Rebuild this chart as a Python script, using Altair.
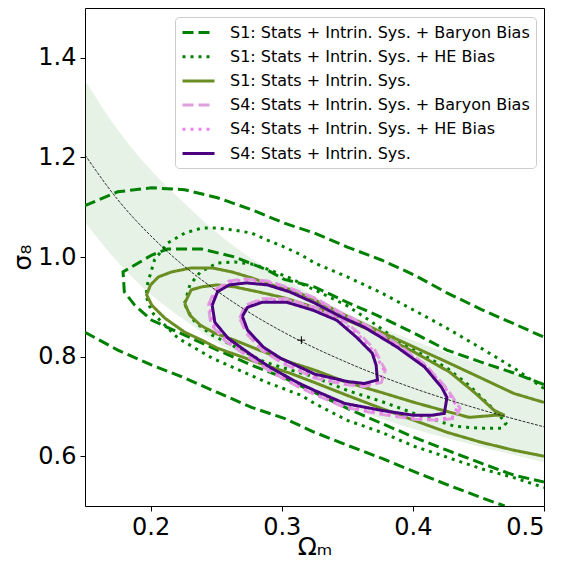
import altair as alt
import pandas as pd

SERIES = [
    "S1: Stats + Intrin. Sys. + Baryon Bias",
    "S1: Stats + Intrin. Sys. + HE Bias",
    "S1: Stats + Intrin. Sys.",
    "S4: Stats + Intrin. Sys. + Baryon Bias",
    "S4: Stats + Intrin. Sys. + HE Bias",
    "S4: Stats + Intrin. Sys.",
]
COLORS = ["#008000", "#008000", "#6b8e23", "#dda0dd", "#ee82ee", "#4b0082"]
DASHES = [[11, 5], [3, 5], [1, 0], [11, 5], [3, 5], [1, 0]]

# shaded degeneracy band and its centre line
BAND_OM = [0.15, 0.175, 0.2, 0.225, 0.25, 0.275, 0.3, 0.35, 0.4, 0.45, 0.5]
BAND_HI = [1.355, 1.255, 1.175, 1.11, 1.05, 1.0, 0.96, 0.887, 0.833, 0.786, 0.75]
BAND_LO = [1.07, 0.99, 0.925, 0.875, 0.83, 0.79, 0.755, 0.70, 0.655, 0.62, 0.588]
CURVE_S8 = [1.205, 1.115, 1.043, 0.983, 0.933, 0.889, 0.851, 0.788, 0.737, 0.695, 0.659]

FID_OM = [0.315]
FID_S8 = [0.833]

# S1 baryon bias (green dashed)
S1B_OUT_TOP_OM = [0.150, 0.175, 0.201, 0.226, 0.251, 0.277, 0.302, 0.325, 0.350, 0.376, 0.401, 0.426, 0.452, 0.477, 0.500]
S1B_OUT_TOP_S8 = [1.103, 1.131, 1.139, 1.135, 1.119, 1.095, 1.068, 1.048, 1.020, 0.994, 0.964, 0.928, 0.895, 0.866, 0.839]
S1B_OUT_BOT_OM = [0.150, 0.175, 0.201, 0.226, 0.251, 0.277, 0.302, 0.325, 0.350, 0.376, 0.401, 0.426, 0.452, 0.470]
S1B_OUT_BOT_S8 = [0.849, 0.813, 0.783, 0.757, 0.728, 0.698, 0.676, 0.648, 0.622, 0.596, 0.569, 0.543, 0.517, 0.500]
S1B_IN_OM = [0.500, 0.477, 0.452, 0.426, 0.401, 0.376, 0.350, 0.325, 0.302, 0.289, 0.264, 0.239, 0.213, 0.201, 0.179,
             0.180, 0.188, 0.201, 0.226, 0.251, 0.277, 0.302, 0.325, 0.350, 0.376, 0.401, 0.426, 0.452, 0.477, 0.500]
S1B_IN_S8 = [0.744, 0.767, 0.789, 0.813, 0.847, 0.879, 0.909, 0.940, 0.955, 0.974, 1.000, 1.016, 1.016, 1.004, 0.970,
             0.930, 0.903, 0.873, 0.843, 0.813, 0.783, 0.757, 0.728, 0.696, 0.666, 0.638, 0.612, 0.586, 0.562, 0.548]

# S1 HE bias (green dotted)
S1H_OUT_OM = [0.500, 0.477, 0.452, 0.426, 0.401, 0.376, 0.350, 0.325, 0.315, 0.302, 0.289, 0.277, 0.264, 0.251, 0.239,
              0.226, 0.213, 0.203, 0.197, 0.197, 0.201, 0.211, 0.221, 0.234, 0.247, 0.264, 0.289, 0.315, 0.325, 0.350,
              0.376, 0.401, 0.426, 0.452, 0.477, 0.500]
S1H_OUT_S8 = [0.736, 0.777, 0.817, 0.857, 0.893, 0.928, 0.960, 0.988, 1.004, 1.020, 1.034, 1.048, 1.054, 1.058, 1.058,
              1.048, 1.028, 0.994, 0.940, 0.918, 0.889, 0.863, 0.837, 0.817, 0.797, 0.777, 0.748, 0.722, 0.706, 0.672,
              0.648, 0.620, 0.598, 0.575, 0.557, 0.537]
S1H_IN_OM = [0.226, 0.230, 0.238, 0.251, 0.264, 0.277, 0.291, 0.306, 0.325, 0.350, 0.369, 0.388, 0.401, 0.426, 0.443,
             0.457, 0.466, 0.471, 0.468, 0.451, 0.432, 0.413, 0.401, 0.376, 0.350, 0.325, 0.302, 0.287, 0.272, 0.259,
             0.247, 0.234, 0.228, 0.226]
S1H_IN_S8 = [0.907, 0.944, 0.970, 0.988, 0.990, 0.986, 0.974, 0.958, 0.934, 0.902, 0.869, 0.833, 0.813, 0.777, 0.742,
             0.706, 0.682, 0.666, 0.656, 0.656, 0.660, 0.676, 0.686, 0.710, 0.732, 0.759, 0.777, 0.789, 0.809, 0.827,
             0.843, 0.869, 0.893, 0.907]

# S1 stats + intrinsic (olive solid)
S1S_OUT_OM = [0.500, 0.477, 0.452, 0.426, 0.401, 0.376, 0.350, 0.325, 0.308, 0.292, 0.277, 0.262, 0.247, 0.231, 0.216,
              0.206, 0.200, 0.197, 0.201, 0.211, 0.226, 0.239, 0.251, 0.268, 0.287, 0.306, 0.325, 0.350, 0.376, 0.401,
              0.426, 0.452, 0.477, 0.500]
S1S_OUT_S8 = [0.708, 0.726, 0.757, 0.789, 0.819, 0.849, 0.881, 0.914, 0.934, 0.944, 0.958, 0.970, 0.978, 0.978, 0.970,
              0.960, 0.944, 0.924, 0.903, 0.877, 0.849, 0.833, 0.817, 0.801, 0.783, 0.767, 0.748, 0.722, 0.696, 0.672,
              0.648, 0.628, 0.612, 0.600]
S1S_IN_OM = [0.226, 0.231, 0.239, 0.251, 0.264, 0.282, 0.302, 0.327, 0.350, 0.376, 0.401, 0.428, 0.447, 0.462, 0.470,
             0.462, 0.443, 0.423, 0.401, 0.376, 0.350, 0.325, 0.306, 0.283, 0.264, 0.249, 0.238, 0.230, 0.226]
S1S_IN_S8 = [0.907, 0.934, 0.940, 0.944, 0.940, 0.930, 0.918, 0.897, 0.873, 0.843, 0.809, 0.769, 0.728, 0.692, 0.682,
             0.682, 0.678, 0.692, 0.708, 0.728, 0.748, 0.773, 0.789, 0.813, 0.833, 0.847, 0.863, 0.883, 0.907]

# S4 baryon bias (plum dashed)
S4B_OUT_OM = [0.244, 0.249, 0.260, 0.273, 0.289, 0.306, 0.325, 0.346, 0.363, 0.388, 0.409, 0.426, 0.436, 0.432, 0.420,
              0.401, 0.376, 0.348, 0.325, 0.312, 0.292, 0.277, 0.257, 0.246, 0.244]
S4B_OUT_S8 = [0.903, 0.934, 0.952, 0.956, 0.952, 0.938, 0.918, 0.887, 0.865, 0.825, 0.785, 0.736, 0.696, 0.676, 0.672,
              0.674, 0.684, 0.698, 0.724, 0.740, 0.769, 0.795, 0.831, 0.865, 0.903]
S4B_IN_OM = [0.268, 0.272, 0.285, 0.304, 0.325, 0.344, 0.359, 0.371, 0.379, 0.376, 0.363, 0.348, 0.325, 0.299, 0.285,
             0.273, 0.268]
S4B_IN_S8 = [0.877, 0.903, 0.916, 0.916, 0.899, 0.879, 0.847, 0.813, 0.773, 0.748, 0.740, 0.744, 0.757, 0.789, 0.813,
             0.847, 0.877]

# S4 HE bias (violet dotted)
S4H_OUT_OM = [0.245, 0.250, 0.260, 0.273, 0.289, 0.306, 0.325, 0.346, 0.363, 0.388, 0.409, 0.425, 0.434, 0.430, 0.418,
              0.401, 0.376, 0.348, 0.325, 0.312, 0.292, 0.277, 0.258, 0.247, 0.245]
S4H_OUT_S8 = [0.903, 0.932, 0.950, 0.954, 0.950, 0.936, 0.916, 0.885, 0.863, 0.823, 0.783, 0.736, 0.698, 0.678, 0.674,
              0.676, 0.686, 0.700, 0.726, 0.742, 0.771, 0.797, 0.833, 0.866, 0.903]
S4H_IN_OM = [0.269, 0.273, 0.285, 0.304, 0.325, 0.343, 0.358, 0.370, 0.378, 0.375, 0.363, 0.348, 0.325, 0.299, 0.285,
             0.274, 0.269]
S4H_IN_S8 = [0.879, 0.901, 0.914, 0.914, 0.897, 0.877, 0.845, 0.811, 0.773, 0.750, 0.742, 0.746, 0.759, 0.791, 0.815,
             0.849, 0.879]

# S4 stats + intrinsic (indigo solid)
S4S_OUT_OM = [0.247, 0.251, 0.260, 0.273, 0.289, 0.306, 0.324, 0.346, 0.363, 0.388, 0.409, 0.422, 0.426, 0.424, 0.414,
              0.401, 0.376, 0.348, 0.325, 0.312, 0.292, 0.277, 0.259, 0.249, 0.247]
S4S_OUT_S8 = [0.903, 0.930, 0.944, 0.948, 0.944, 0.930, 0.909, 0.879, 0.859, 0.819, 0.779, 0.738, 0.718, 0.686, 0.682,
              0.682, 0.692, 0.706, 0.732, 0.748, 0.777, 0.803, 0.837, 0.869, 0.903]
S4S_IN_OM = [0.270, 0.274, 0.285, 0.304, 0.324, 0.342, 0.357, 0.369, 0.372, 0.373, 0.363, 0.350, 0.325, 0.299, 0.286,
             0.274, 0.270]
S4S_IN_S8 = [0.881, 0.899, 0.909, 0.909, 0.893, 0.873, 0.839, 0.807, 0.783, 0.753, 0.746, 0.750, 0.765, 0.797, 0.819,
             0.853, 0.881]

CONTOURS = [
    (0, "s1b_out_top", S1B_OUT_TOP_OM, S1B_OUT_TOP_S8),
    (0, "s1b_out_bot", S1B_OUT_BOT_OM, S1B_OUT_BOT_S8),
    (0, "s1b_in", S1B_IN_OM, S1B_IN_S8),
    (1, "s1h_out", S1H_OUT_OM, S1H_OUT_S8),
    (1, "s1h_in", S1H_IN_OM, S1H_IN_S8),
    (2, "s1s_out", S1S_OUT_OM, S1S_OUT_S8),
    (2, "s1s_in", S1S_IN_OM, S1S_IN_S8),
    (3, "s4b_out", S4B_OUT_OM, S4B_OUT_S8),
    (3, "s4b_in", S4B_IN_OM, S4B_IN_S8),
    (4, "s4h_out", S4H_OUT_OM, S4H_OUT_S8),
    (4, "s4h_in", S4H_IN_OM, S4H_IN_S8),
    (5, "s4s_out", S4S_OUT_OM, S4S_OUT_S8),
    (5, "s4s_in", S4S_IN_OM, S4S_IN_S8),
]

rows = []
for si, cid, oms, s8s in CONTOURS:
    for i, (om, s8) in enumerate(zip(oms, s8s)):
        rows.append({"series": SERIES[si], "cid": cid, "i": i, "om": om, "s8": s8, "grp": "S1" if si < 3 else "S4"})
cdf = pd.DataFrame(rows)
band_df = pd.DataFrame({"om": BAND_OM, "hi": BAND_HI, "lo": BAND_LO, "mid": CURVE_S8})
fid_df = pd.DataFrame({"om": FID_OM, "s8": FID_S8})

FONT = "DejaVu Sans"
xs = alt.Scale(domain=[0.15, 0.5], nice=False, zero=False)
ys = alt.Scale(domain=[0.5, 1.5], nice=False, zero=False)
xaxis = alt.Axis(values=[0.2, 0.3, 0.4, 0.5], format=".1f", title="Ωₘ",
                 titleBaseline="alphabetic", titleY=48)
yaxis = alt.Axis(values=[0.6, 0.8, 1.0, 1.2, 1.4], format=".1f", title="σ₈")

X = alt.X("om:Q", scale=xs, axis=xaxis)

legend = alt.Legend(
    title=None, orient="none", legendX=90, legendY=9,
    fillColor="white", strokeColor="#cccccc", cornerRadius=4, padding=6,
    symbolType="M-2,0L2,0", symbolSize=256, symbolStrokeWidth=3, symbolOffset=8,
    labelFontSize=16, labelFont=FONT, labelColor="black", labelLimit=500,
    rowPadding=6.2, labelOffset=22,
)
color = alt.Color("series:N", scale=alt.Scale(domain=SERIES, range=COLORS), legend=legend, title=None)
dash = alt.StrokeDash("series:N", scale=alt.Scale(domain=SERIES, range=DASHES), legend=legend, title=None)

band = alt.Chart(band_df).mark_area(color="green", opacity=0.1, interpolate="monotone").encode(
    x=X, y=alt.Y("hi:Q", scale=ys, axis=yaxis), y2="lo:Q"
)
curve = alt.Chart(band_df).mark_line(color="black", strokeWidth=0.8, strokeDash=[3, 1.3], interpolate="monotone").encode(
    x=X, y=alt.Y("mid:Q", scale=ys, axis=yaxis)
)

def contour_layer(grp):
    return alt.Chart(cdf[cdf.grp == grp]).mark_line(strokeWidth=3, clip=True, strokeCap="butt").encode(
        x=X, y=alt.Y("s8:Q", scale=ys, axis=yaxis), color=color, strokeDash=dash,
        detail="cid:N", order="i:Q",
    )

fid = alt.Chart(fid_df).mark_point(shape="M-1,0L1,0M0,-1L0,1", size=60, filled=False, color="black",
                                   strokeWidth=1, opacity=1).encode(
    x=X, y=alt.Y("s8:Q", scale=ys, axis=yaxis)
)

chart = alt.layer(band, contour_layer("S1"), contour_layer("S4"), curve, fid).properties(
    width=459, height=498,
    autosize=alt.AutoSizeParams(type="none"),
    padding={"left": 77, "top": 0, "right": 10, "bottom": 54},
).configure(font=FONT).configure_view(
    stroke="black", strokeWidth=1
).configure_axis(
    grid=False, domain=False, ticks=True, tickSize=5, tickColor="black", tickWidth=1,
    labelFontSize=24, labelColor="black", labelFont=FONT, labelPadding=4,
    titleFontSize=25, titleColor="black", titleFont=FONT, titleFontWeight="normal",
).configure_axisX(titlePadding=2).configure_axisY(titlePadding=2)

chart.save("out.html", embed_options={"renderer": "svg", "actions": False})
